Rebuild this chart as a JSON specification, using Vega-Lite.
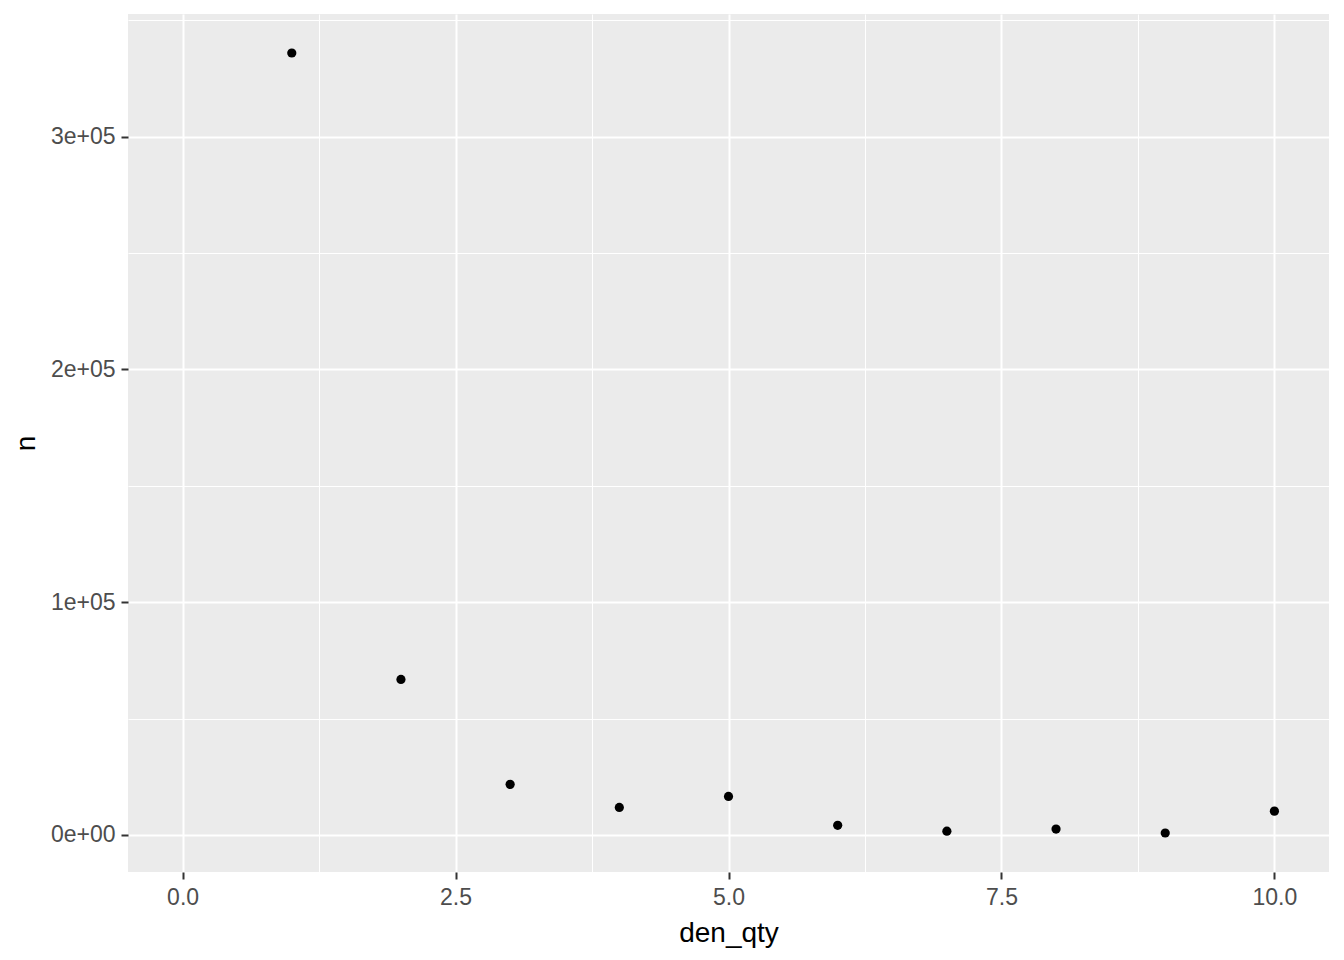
{
  "$schema": "https://vega.github.io/schema/vega-lite/v6.json",
  "width": 1201,
  "height": 858,
  "autosize": "none",
  "padding": {"left": 128, "top": 14, "right": 15, "bottom": 88},
  "background": "white",
  "view": {"fill": "#EBEBEB", "stroke": null},
  "config": {
    "font": "Liberation Sans",
    "axis": {
      "domain": false,
      "gridColor": "white",
      "tickColor": "#333333",
      "tickWidth": 2,
      "tickSize": 7,
      "labelColor": "#4D4D4D",
      "labelFontSize": 23,
      "labelFont": "Liberation Sans",
      "titleFont": "Liberation Sans",
      "titleFontSize": 28,
      "titleFontWeight": "normal",
      "titleColor": "black"
    }
  },
  "data": {
    "values": [
      {"den_qty": 1, "n": 336000},
      {"den_qty": 2, "n": 66800},
      {"den_qty": 3, "n": 21700},
      {"den_qty": 4, "n": 11800},
      {"den_qty": 5, "n": 16500},
      {"den_qty": 6, "n": 4100},
      {"den_qty": 7, "n": 1600},
      {"den_qty": 8, "n": 2500},
      {"den_qty": 9, "n": 800},
      {"den_qty": 10, "n": 10200}
    ]
  },
  "mark": {"type": "point", "filled": true, "color": "black", "opacity": 1, "size": 85},
  "encoding": {
    "x": {
      "field": "den_qty",
      "type": "quantitative",
      "scale": {"domain": [-0.5, 10.5], "nice": false, "zero": false},
      "axis": {
        "values": [0, 1.25, 2.5, 3.75, 5, 6.25, 7.5, 8.75, 10],
        "gridWidth": {"condition": {"test": "datum.value % 2.5 === 0", "value": 2}, "value": 1},
        "tickOpacity": {"condition": {"test": "datum.value % 2.5 === 0", "value": 1}, "value": 0},
        "labelExpr": "datum.value % 2.5 === 0 ? format(datum.value, '.1f') : ''",
        "labelPadding": 7,
        "labelFlush": false,
        "titlePadding": 10
      }
    },
    "y": {
      "field": "n",
      "type": "quantitative",
      "scale": {"domain": [-15960, 352760], "nice": false, "zero": false},
      "axis": {
        "values": [0, 50000, 100000, 150000, 200000, 250000, 300000, 350000],
        "gridWidth": {"condition": {"test": "datum.value % 100000 === 0", "value": 2}, "value": 1},
        "tickOpacity": {"condition": {"test": "datum.value % 100000 === 0", "value": 1}, "value": 0},
        "labelExpr": "datum.value % 100000 === 0 ? (datum.value === 0 ? '0e+00' : (datum.value / 100000) + 'e+05') : ''",
        "labelPadding": 6,
        "labelFlush": false,
        "titlePadding": 10
      }
    }
  }
}
